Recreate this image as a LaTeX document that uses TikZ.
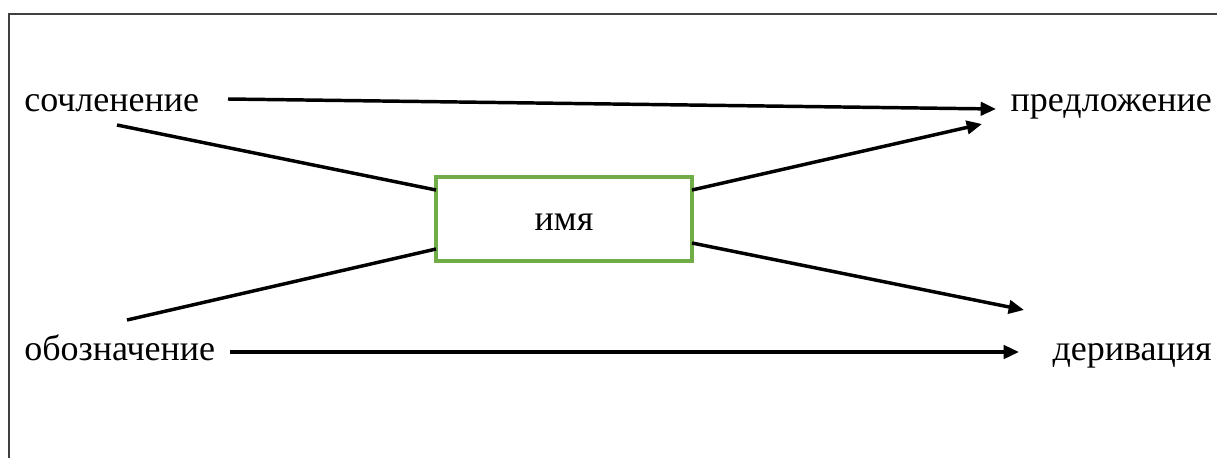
\documentclass[tikz,border=0pt]{standalone}
\usepackage{fontspec}
\setmainfont{Liberation Serif}
\usetikzlibrary{arrows.meta}
\definecolor{boxgreen}{RGB}{112,173,71}
\begin{document}
\begin{tikzpicture}[x=0.75pt,y=-0.75pt,
  lbl/.style={inner sep=0pt,font=\fontsize{27}{30}\selectfont},
  conn/.style={line width=2.6pt,black},
  arr/.style={conn,-{Triangle[length=11.5pt,width=10pt]}},
  namebox/.style={lbl,draw=boxgreen,line width=2.6pt,minimum width=192pt,minimum height=63pt,text height=17pt,text depth=0pt}]
\useasboundingbox (0,0) rectangle (1217,457);
\draw[line width=1.6pt,black!75] (9,14) rectangle (1260,500);
\node[lbl,anchor=base west] (son) at (24,111) {сочленение};
\node[lbl,anchor=base east] (pre) at (1212,111) {предложение};
\node[lbl,anchor=base west] (obo) at (24,360) {обозначение};
\node[lbl,anchor=base east] (der) at (1212,360) {деривация};
\node[namebox] (imya) at (564,219) {имя};
\coordinate (s1) at (228,99);
\coordinate (t1) at (996,109);
\coordinate (s2) at (117,125);
\coordinate (t2) at (436,190);
\coordinate (s3) at (127,320);
\coordinate (t3) at (436,249);
\coordinate (s4) at (692,190);
\coordinate (t4) at (982,124);
\coordinate (s5) at (692,243);
\coordinate (t5) at (1024,310);
\coordinate (s6) at (230,352);
\coordinate (t6) at (1019,352);
\draw[arr] (s1) -- (t1);
\draw[conn] (s2) -- (t2);
\draw[conn] (s3) -- (t3);
\draw[arr] (s4) -- (t4);
\draw[arr] (s5) -- (t5);
\draw[arr] (s6) -- (t6);
\end{tikzpicture}
\end{document}
